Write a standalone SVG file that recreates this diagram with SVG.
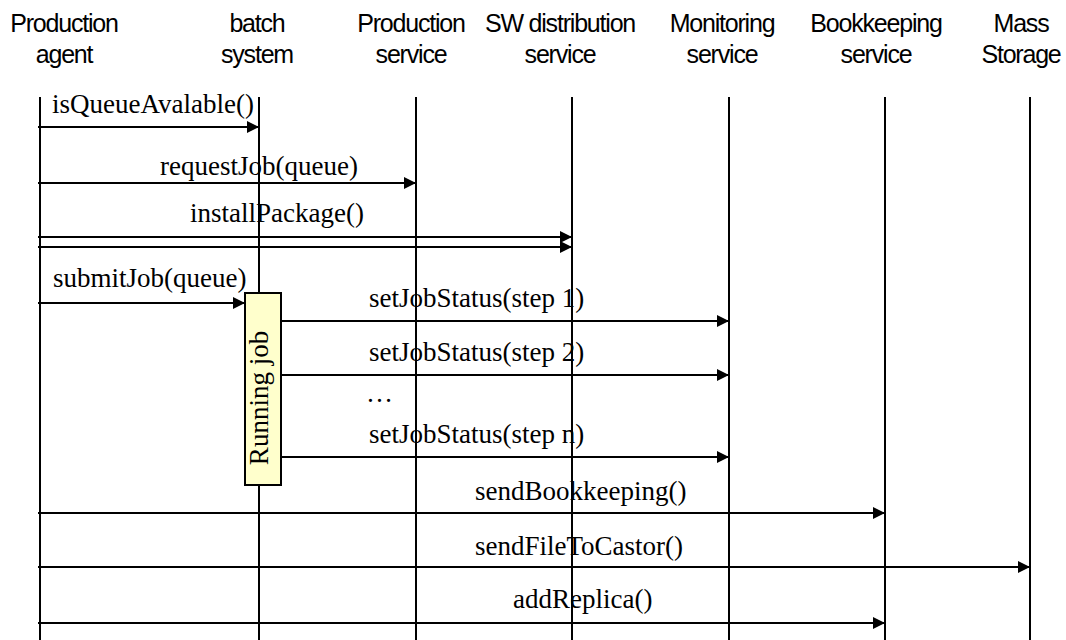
<svg xmlns="http://www.w3.org/2000/svg" width="1066" height="640" viewBox="0 0 1066 640">
<defs>
<style>
.hdr{font-family:"Liberation Sans",Arial,sans-serif;font-size:25px;letter-spacing:-1.2px;fill:#000;text-anchor:middle}
.lbl{font-family:"Liberation Serif","Times New Roman",serif;font-size:27px;fill:#000}
.life{stroke:#000;stroke-width:2;fill:none}
.msg{stroke:#000;stroke-width:2;fill:none;marker-end:url(#ah)}
.act{fill:#FFFFCC;stroke:#000;stroke-width:2}
</style>
<marker id="ah" markerUnits="userSpaceOnUse" markerWidth="13" markerHeight="12" refX="12" refY="6" orient="auto">
<path d="M0,0 L12,6 L0,12 Z" fill="#000"/>
</marker>
</defs>
<rect width="1066" height="640" fill="#fff"/>
<g id="production-agent">
<text class="hdr" x="64" y="32">Production</text>
<text class="hdr" x="64" y="63">agent</text>
<line class="life" x1="40" y1="97" x2="40" y2="640"/>
</g>
<g id="batch-system">
<text class="hdr" x="257" y="32">batch</text>
<text class="hdr" x="257" y="63">system</text>
<line class="life" x1="259" y1="97" x2="259" y2="640"/>
</g>
<g id="production-service">
<text class="hdr" x="411" y="32">Production</text>
<text class="hdr" x="411" y="63">service</text>
<line class="life" x1="416" y1="97" x2="416" y2="640"/>
</g>
<g id="sw-distribution-service">
<text class="hdr" x="560" y="32">SW distribution</text>
<text class="hdr" x="560" y="63">service</text>
<line class="life" x1="572" y1="97" x2="572" y2="640"/>
</g>
<g id="monitoring-service">
<text class="hdr" x="722" y="32">Monitoring</text>
<text class="hdr" x="722" y="63">service</text>
<line class="life" x1="729" y1="97" x2="729" y2="640"/>
</g>
<g id="bookkeeping-service">
<text class="hdr" x="876" y="32">Bookkeeping</text>
<text class="hdr" x="876" y="63">service</text>
<line class="life" x1="885" y1="97" x2="885" y2="640"/>
</g>
<g id="mass-storage">
<text class="hdr" x="1021" y="32">Mass</text>
<text class="hdr" x="1021" y="63">Storage</text>
<line class="life" x1="1030" y1="97" x2="1030" y2="640"/>
</g>
<g id="running-job">
<rect class="act" x="245" y="293" width="36" height="192"/>
<text class="lbl" transform="translate(268,398) rotate(-90)" text-anchor="middle">Running job</text>
</g>
<g id="connectors">
<line class="msg" x1="38" y1="127" x2="259" y2="127"/>
<line class="msg" x1="38" y1="183" x2="416" y2="183"/>
<line class="msg" x1="38" y1="237" x2="572" y2="237"/>
<line class="msg" x1="38" y1="247" x2="572" y2="247"/>
<line class="msg" x1="38" y1="303" x2="245" y2="303"/>
<line class="msg" x1="281" y1="321" x2="729" y2="321"/>
<line class="msg" x1="281" y1="375" x2="729" y2="375"/>
<line class="msg" x1="281" y1="457" x2="729" y2="457"/>
<line class="msg" x1="38" y1="513" x2="885" y2="513"/>
<line class="msg" x1="38" y1="567" x2="1030" y2="567"/>
<line class="msg" x1="38" y1="623" x2="885" y2="623"/>
</g>
<g id="labels">
<text class="lbl" x="52" y="113">isQueueAvalable()</text>
<text class="lbl" x="160" y="175">requestJob(queue)</text>
<text class="lbl" x="190" y="222">installPackage()</text>
<text class="lbl" x="53" y="287">submitJob(queue)</text>
<text class="lbl" x="369" y="307">setJobStatus(step 1)</text>
<text class="lbl" x="369" y="361">setJobStatus(step 2)</text>
<text class="lbl" x="366" y="402">…</text>
<text class="lbl" x="369" y="443">setJobStatus(step n)</text>
<text class="lbl" x="475" y="500">sendBookkeeping()</text>
<text class="lbl" x="475" y="555">sendFileToCastor()</text>
<text class="lbl" x="513" y="608">addReplica()</text>
</g>
</svg>
